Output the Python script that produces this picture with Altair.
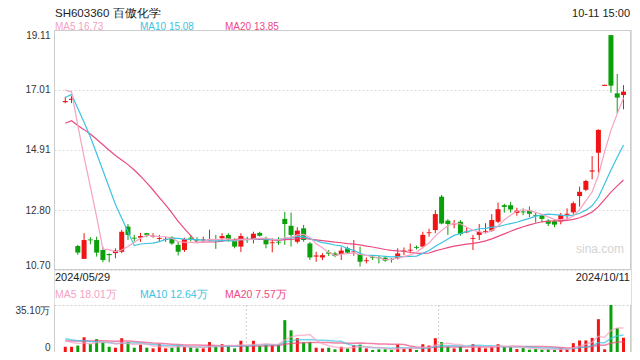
import altair as alt
import pandas as pd

# ---------------- data ----------------
opens = [16.58, 16.66, 11.54, 11.09, 11.77, 11.75, 11.40, 11.26, 11.29, 11.34,
         12.22, 11.83, 11.83, 11.99, 11.87, 11.79, 11.76, 11.84, 11.58, 11.40,
         11.83, 11.77, 11.74, 11.74, 11.78, 11.81, 11.93, 11.75, 11.52, 11.78,
         11.77, 12.00, 11.81, 11.64, 11.69, 12.49, 12.25, 11.69, 12.16, 11.63,
         11.17, 11.14, 11.32, 11.28, 11.26, 11.46, 11.32, 11.26, 11.01, 11.16,
         11.14, 11.13, 11.09, 11.11, 11.35, 11.38, 11.50, 11.52, 11.99, 12.10,
         13.27, 12.43, 12.30, 12.39, 12.02, 11.79, 11.93, 12.04, 12.08, 12.39,
         12.97, 12.97, 12.70, 12.75, 12.78, 12.63, 12.61, 12.43, 12.41, 12.40,
         12.64, 12.72, 13.29, 13.51, 14.15, 14.81, 17.15, 18.93, 16.89, 16.83]
highs = [16.77, 16.80, 11.58, 11.99, 11.85, 11.87, 11.52, 11.28, 11.46, 12.11,
         12.31, 11.93, 12.00, 12.00, 11.99, 11.93, 11.86, 11.88, 11.68, 11.83,
         11.93, 11.85, 11.87, 12.11, 11.93, 11.99, 11.99, 11.81, 11.99, 11.87,
         12.04, 12.04, 11.87, 11.81, 11.85, 12.74, 12.71, 12.20, 12.28, 11.68,
         11.34, 11.29, 11.40, 11.34, 11.50, 11.52, 11.75, 11.52, 11.14, 11.22,
         11.20, 11.19, 11.12, 11.46, 11.49, 11.63, 11.56, 12.04, 12.15, 12.80,
         13.33, 12.48, 12.45, 12.45, 12.20, 11.93, 12.31, 12.34, 12.66, 13.06,
         13.02, 13.08, 12.88, 12.86, 12.93, 12.70, 12.66, 12.48, 12.46, 12.70,
         12.86, 13.10, 13.62, 13.86, 14.69, 15.63, 17.19, 18.93, 17.57, 17.18]
lows = [16.54, 16.55, 11.23, 11.09, 11.60, 11.17, 10.97, 10.97, 11.11, 11.29,
        11.75, 11.69, 11.69, 11.85, 11.83, 11.69, 11.69, 11.58, 11.21, 11.33,
        11.70, 11.65, 11.65, 11.70, 11.44, 11.69, 11.69, 11.46, 11.33, 11.65,
        11.63, 11.87, 11.46, 11.32, 11.58, 11.58, 11.52, 11.63, 11.69, 11.05,
        10.99, 11.05, 11.19, 11.15, 11.05, 11.26, 11.20, 10.82, 10.93, 11.05,
        10.93, 10.99, 10.96, 11.07, 11.22, 11.29, 11.42, 11.46, 11.87, 11.99,
        12.30, 11.93, 12.16, 11.90, 11.99, 11.40, 11.75, 12.00, 12.04, 12.34,
        12.71, 12.71, 12.60, 12.62, 12.55, 12.36, 12.38, 12.24, 12.20, 12.30,
        12.45, 12.65, 12.92, 13.46, 13.88, 14.11, 17.15, 16.91, 16.19, 16.33]
closes = [16.62, 16.70, 11.31, 11.75, 11.74, 11.31, 11.05, 11.22, 11.38, 12.04,
          11.93, 11.80, 11.89, 11.93, 11.90, 11.82, 11.79, 11.63, 11.34, 11.78,
          11.80, 11.74, 11.77, 11.77, 11.75, 11.89, 11.78, 11.52, 11.89, 11.75,
          11.97, 11.90, 11.60, 11.67, 11.66, 12.31, 11.93, 12.08, 11.75, 11.14,
          11.21, 11.22, 11.27, 11.19, 11.38, 11.31, 11.35, 10.99, 11.04, 11.13,
          11.11, 11.03, 11.05, 11.28, 11.38, 11.41, 11.47, 11.93, 12.02, 12.66,
          12.33, 12.31, 12.33, 11.96, 12.05, 11.82, 12.04, 12.07, 12.45, 12.83,
          12.91, 12.82, 12.78, 12.72, 12.67, 12.60, 12.49, 12.32, 12.29, 12.63,
          12.67, 13.04, 13.44, 13.82, 14.19, 15.61, 17.19, 17.16, 16.74, 16.95]
# volume in 万
volumes = [3.9, 3.9, 4.8, 11.0, 6.0, 9.6, 7.2, 3.9, 3.2, 10.3,
           7.4, 3.2, 5.5, 3.2, 2.7, 5.8, 2.7, 3.2, 4.8, 3.9,
           3.6, 2.7, 2.7, 7.4, 4.4, 5.8, 4.4, 2.7, 8.4, 4.4,
           8.4, 4.4, 5.5, 5.5, 5.5, 23.8, 16.2, 10.3, 7.2, 7.4,
           3.2, 2.7, 3.2, 2.0, 3.9, 2.7, 5.1, 5.5, 2.7, 1.5,
           2.0, 2.0, 1.5, 5.5, 2.4, 2.7, 1.5, 5.8, 4.8, 10.3,
           7.4, 3.9, 2.7, 3.9, 2.0, 5.8, 3.9, 2.7, 3.9, 5.8,
           3.8, 3.8, 2.2, 2.9, 1.7, 2.2, 1.7, 2.0, 1.7, 3.0,
           2.0, 6.6, 8.6, 8.6, 10.55, 24.5, 2.0, 35.1, 17.8, 10.65]
# sessions before the window (only feed the moving averages)
pre_closes = [14.9, 14.7, 14.6, 14.8, 15.0, 14.9, 15.1, 15.0, 15.2, 15.2,
              15.6, 16.2, 16.6, 16.9, 17.1, 17.0, 17.2, 17.3, 16.9]
pre_volumes = [6.2, 7.4, 6.8, 7.5, 6.6, 7.2, 6.9, 7.3, 6.7, 7.2,
               11.2, 12.5, 10.4, 11.6, 10.6, 9.8, 9.0, 8.6, 10.6]

price_ticks = [10.70, 12.80, 14.91, 17.01, 19.11]
vol_ticks = [0, 35.1]
title_text = "SH603360 百傲化学"
time_text = "10-11 15:00"
ma_price_labels = ["MA5 16.73", "MA10 15.08", "MA20 13.85"]
ma_vol_labels = ["MA5 18.01万", "MA10 12.64万", "MA20 7.57万"]
date_labels = ["2024/05/29", "2024/10/11"]

# ---------------- styling ----------------
RED = "#f01414"
GREEN = "#0aa00a"
C5 = "#f6a2c2"
C10 = "#3cc3e2"
C20 = "#ec4a82"
FONT = "Liberation Sans"

n = len(closes)
df = pd.DataFrame({
    "idx": list(range(n)), "open": opens, "high": highs, "low": lows,
    "close": closes, "vol": volumes,
})
df["dir"] = ["up" if c >= o else "down" for o, c in zip(opens, closes)]

npre = len(pre_closes)
ma_df = pd.DataFrame({
    "idx": list(range(-npre, n)),
    "close": pre_closes + closes,
    "vol": pre_volumes + volumes,
})

W, H = 577, 322
PH = 240          # price panel height
VT, VB = 275, 322  # volume panel top / bottom
xs = alt.Scale(domain=[-1.0, 89.4], nice=False, zero=False)
py = alt.Scale(domain=[10.70, 19.11], range=[PH, 0], nice=False, zero=False)
vy = alt.Scale(domain=[0, 35.1], range=[VB, VT], nice=False, zero=False)
col = alt.Color("dir:N", scale=alt.Scale(domain=["up", "down"], range=[RED, GREEN]), legend=None)
X = alt.X("idx:Q", scale=xs, axis=None)

price_axis = alt.Axis(values=price_ticks, format=".2f", labelFlush=True, grid=True,
                      gridDash=[2, 2], gridColor="#dcdcdc", domain=False, ticks=False,
                      labelPadding=4, labelFontSize=10, labelColor="#333", title=None,
                      orient="left")
vol_axis = alt.Axis(values=vol_ticks, labelExpr="datum.value == 0 ? '0' : '35.10万'",
                    labelFlush=True, grid=True, gridDash=[2, 2], gridColor="#cfcfcf",
                    domain=False, ticks=False, labelPadding=4, labelFontSize=10,
                    labelColor="#333", title=None, orient="left")

base = alt.Chart(df)
wicks = base.mark_rule(strokeWidth=1).encode(
    x=X, y=alt.Y("low:Q", scale=py, axis=price_axis), y2="high:Q", color=col)
bodies = base.mark_bar(size=5).encode(
    x=X, y=alt.Y("open:Q", scale=py, axis=None), y2="close:Q", color=col)
vbars = base.mark_bar(size=3).encode(
    x=X, y=alt.Y("vol:Q", scale=vy, axis=vol_axis), color=col)


def ma_line(field, k, scale, color, width, opacity):
    return (alt.Chart(ma_df)
            .transform_window(m=f"mean({field})", frame=[-(k - 1), 0], sort=[{"field": "idx"}])
            .transform_filter("datum.idx >= 0")
            .mark_line(strokeWidth=width, color=color, opacity=opacity)
            .encode(x=X, y=alt.Y("m:Q", scale=scale, axis=None)))


one = pd.DataFrame({"a": [0]})


def vrule(x, y0, y1, color="#cccccc", dash=None):
    kw = {"stroke": color, "strokeWidth": 1}
    if dash:
        kw["strokeDash"] = dash
    return alt.Chart(one).mark_rule(**kw).encode(
        x=alt.value(x), y=alt.value(y0), y2=alt.value(y1))


def hrule(y, x0, x1, color="#cccccc"):
    return alt.Chart(one).mark_rule(stroke=color, strokeWidth=1).encode(
        y=alt.value(y), x=alt.value(x0), x2=alt.value(x1))


def label(text, x, y, color="#333", size=10.5, align="left"):
    return alt.Chart(pd.DataFrame({"t": [text]})).mark_text(
        align=align, baseline="middle", fontSize=size, color=color, font=FONT
    ).encode(x=alt.value(x), y=alt.value(y), text="t:N")


layers = [
    # volume panel grid and borders
    vrule(W / 3, VT, VB, "#cfcfcf", [2, 2]),
    vrule(2 * W / 3, VT, VB, "#cfcfcf", [2, 2]),
    vrule(0.5, VT, VB), vrule(W - 0.5, VT, VB),
    # price panel frame
    hrule(0.5, 0, W), hrule(PH - 0.5, 0, W),
    vrule(0.5, 0, PH), vrule(W - 0.5, 0, PH),
    # candles
    wicks, bodies,
    ma_line("close", 20, py, C20, 1.2, 1),
    ma_line("close", 10, py, C10, 1.2, 1),
    ma_line("close", 5, py, C5, 1.2, 1),
    # volume
    vbars,
    ma_line("vol", 20, vy, C20, 1.5, 0.7),
    ma_line("vol", 10, vy, C10, 1.5, 0.7),
    ma_line("vol", 5, vy, C5, 1.5, 0.7),
    # texts
    label(title_text, 1, -16.5, "#222", 11.5),
    label(time_text, W - 1, -16.5, "#222", 11, "right"),
    label(ma_price_labels[0], 1, -3.5, C5, 10),
    label(ma_price_labels[1], 86, -3.5, C10, 10),
    label(ma_price_labels[2], 171, -3.5, C20, 10),
    label(date_labels[0], 1, 248, "#222", 11),
    label(date_labels[1], W - 1, 248, "#222", 11, "right"),
    label(ma_vol_labels[0], 1, 265, C5),
    label(ma_vol_labels[1], 86, 265, C10),
    label(ma_vol_labels[2], 171, 265, C20),
    label("sina.com", 546, 219, "#d4d4d4", 12, "center"),
]

chart = alt.layer(*layers).resolve_scale(y="independent").properties(
    width=W, height=H,
    autosize=alt.AutoSizeParams(type="none"),
    padding={"left": 46, "top": 22, "right": 1, "bottom": 0},
).configure_view(stroke=None).configure(background="white", font=FONT)

chart.save("out.html", embed_options={"renderer": "svg", "actions": False})
